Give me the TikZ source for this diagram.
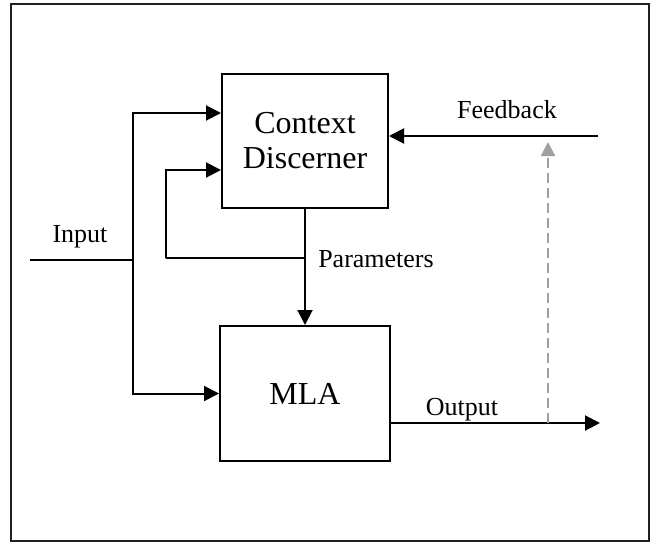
\documentclass[tikz,border=0pt]{standalone}
\usepackage{fontspec}
\setmainfont{Liberation Serif}
\usepackage{tikz}
\usetikzlibrary{arrows.meta,calc}
\definecolor{fbgray}{HTML}{A0A0A0}
\definecolor{framegray}{HTML}{202020}

\begin{document}
\begin{tikzpicture}[x=0.5pt, y=-0.5pt, line width=1pt,
		blk/.style={draw, line width=1pt, inner sep=0pt, align=center, font=\fontsize{16}{17.5}\selectfont},
		lbl/.style={font=\fontsize{13}{15}\selectfont, inner sep=0pt},
		arr/.style={-{Triangle[length=7.5pt, width=7.5pt]}},
		probe/.style={fbgray, dash pattern=on 5pt off 2.5pt, -{Triangle[length=7pt, width=7pt]}}]
		\useasboundingbox (0,0) rectangle (653,542);
		\draw[framegray] (11,4) rectangle (649,541);
		\node[blk, minimum width=83pt, minimum height=67pt] (cd) at (305,141) {Context\\Discerner};
		\node[blk, minimum width=85pt, minimum height=67.5pt] (mla) at (305,393.5) {MLA};
		\coordinate (in) at (30,260);
		\coordinate (split) at (133,260);
		\coordinate (cd in1) at ([yshift=14pt]cd.west);
		\coordinate (cd in2) at ([yshift=-14.5pt]cd.west);
		\coordinate (cd fb) at ([yshift=2.5pt]cd.east);
		\coordinate (tap) at ($(cd.south)!0.42!(mla.north)$);
		\coordinate (loop) at (166,258);
		\coordinate (fb) at (598,136);
		\coordinate (mla out) at ([yshift=-14.75pt]mla.east);
		\coordinate (out) at (600,423);
		\coordinate (tick) at (548,423);
		\coordinate (tick top) at (548,142);
		\draw (in) -- (split);
		\draw[arr] (split) |- (cd in1);
		\draw[arr] (split) |- (mla.west);
		\draw[arr] (cd.south) -- (mla.north);
		\draw[arr] (tap) -| (loop) |- (cd in2);
		\draw[arr] (fb) -- (cd fb);
		\draw[arr] (mla out) -- (out);
		\draw[probe] (tick) -- (tick top);
		\node[lbl] (input) at (80,237) {Input};
		\node[lbl] (feedback) at (507,110) {Feedback};
		\node[lbl] (params) at (376,259) {Parameters};
		\node[lbl] (output) at (462,410) {Output};
	\end{tikzpicture}
\end{document}
